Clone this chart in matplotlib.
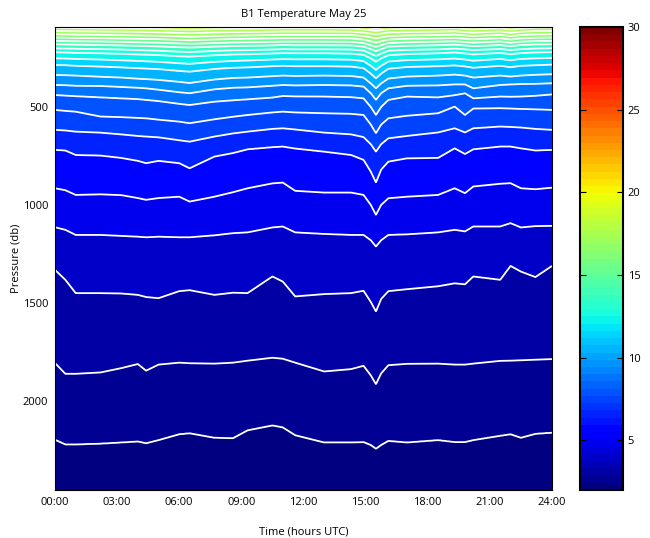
import numpy as np
import matplotlib.pyplot as plt
from matplotlib.colors import Normalize
from matplotlib.cm import ScalarMappable

plt.rcParams['font.family'] = ['Open Sans', 'DejaVu Sans']

# knot times (hours UTC) at which the isotherm depths were read
hours = [0, 0.5, 1.0, 2.2, 3.2, 4.0, 4.4, 5.0, 6.0, 6.5, 7.7, 8.6, 9.3, 10.5, 11.0,
         11.6, 13.0, 14.3, 14.9, 15.25, 15.5, 15.75, 16.1, 17.0, 18.5, 19.3, 19.8,
         20.2, 21.5, 22.0, 22.5, 23.2, 24.0]

# isotherm temperatures (deg C), deepest first
levels = [2.5, 3.3, 4.1, 4.9, 5.7, 6.5, 7.3, 8.1, 8.9, 9.7, 10.5, 11.3,
          12.1, 12.9, 13.7, 14.5, 15.3, 16.1, 16.9, 17.7, 18.5, 19.3, 20.1]

# pressure (db) of each isotherm at the knot times
p_2_5 = [2198, 2222, 2222, 2218, 2212, 2207, 2216, 2200, 2170, 2165, 2188, 2190, 2150, 2125, 2135,
         2175, 2212, 2212, 2210, 2225, 2244, 2225, 2204, 2212, 2200, 2210, 2210, 2200, 2178, 2170,
         2188, 2168, 2162]
p_3_3 = [1807, 1862, 1862, 1855, 1833, 1812, 1846, 1815, 1805, 1808, 1810, 1805, 1795, 1780, 1785,
         1805, 1850, 1838, 1821, 1870, 1915, 1860, 1818, 1811, 1810, 1815, 1815, 1810, 1796, 1795,
         1793, 1790, 1787]
p_4_1 = [1331, 1382, 1450, 1450, 1452, 1459, 1470, 1476, 1440, 1435, 1459, 1448, 1450, 1365, 1391,
         1467, 1455, 1450, 1438, 1495, 1544, 1480, 1440, 1430, 1415, 1400, 1405, 1365, 1382, 1311,
         1340, 1368, 1311]
p_4_9 = [1114, 1127, 1153, 1153, 1158, 1162, 1165, 1162, 1165, 1165, 1155, 1144, 1140, 1115, 1110,
         1140, 1148, 1153, 1153, 1180, 1212, 1180, 1153, 1150, 1140, 1127, 1135, 1110, 1110, 1093,
         1115, 1108, 1107]
p_5_7 = [915, 925, 949, 946, 950, 965, 974, 965, 958, 983, 958, 935, 915, 890, 886,
         928, 937, 937, 949, 1000, 1051, 1000, 966, 958, 949, 915, 940, 906, 892, 889,
         915, 920, 912]
p_6_5 = [719, 722, 745, 748, 760, 775, 787, 775, 787, 813, 753, 735, 716, 705, 702,
         712, 728, 745, 770, 830, 886, 820, 779, 762, 760, 711, 740, 716, 702, 702,
         711, 722, 719]
p_7_3 = [617, 620, 626, 631, 640, 648, 651, 655, 670, 677, 651, 635, 626, 612, 609,
         615, 631, 640, 654, 690, 728, 690, 660, 648, 630, 609, 630, 609, 600, 602,
         605, 612, 617]
p_8_1 = [515, 520, 524, 549, 552, 556, 558, 565, 575, 583, 563, 550, 541, 528, 524,
         528, 532, 535, 541, 590, 634, 590, 558, 545, 532, 498, 541, 508, 506, 508,
         510, 512, 515]
p_8_9 = [439, 442, 445, 451, 456, 460, 464, 470, 484, 490, 473, 466, 461, 452, 444,
         446, 447, 450, 456, 500, 541, 500, 464, 447, 451, 440, 430, 456, 447, 448,
         447, 443, 436]
p_9_7 = [388, 389, 392, 393, 398, 402, 405, 412, 425, 430, 410, 402, 400, 392, 388,
         390, 388, 390, 396, 430, 464, 430, 405, 392, 390, 385, 385, 405, 388, 385,
         383, 382, 379]
p_10_5 = [337, 338, 340, 346, 350, 356, 358, 362, 372, 378, 360, 352, 350, 343, 340,
          342, 340, 342, 350, 380, 405, 380, 355, 345, 340, 335, 340, 350, 340, 345,
          340, 336, 333]
p_11_3 = [286, 287, 290, 294, 298, 302, 304, 307, 316, 320, 306, 300, 298, 292, 290,
          292, 292, 294, 302, 330, 354, 330, 305, 296, 292, 288, 293, 300, 290, 297,
          290, 287, 284]
p_12_1 = [252, 253, 255, 258, 262, 265, 267, 270, 277, 280, 270, 265, 263, 258, 256,
          257, 257, 259, 266, 290, 311, 290, 268, 261, 257, 253, 258, 264, 255, 262,
          255, 252, 250]
p_12_9 = [221, 222, 224, 226, 229, 232, 233, 235, 241, 243, 236, 232, 231, 227, 225,
          226, 226, 228, 234, 252, 269, 252, 236, 230, 226, 222, 227, 232, 224, 231,
          225, 222, 220]
p_13_7 = [201, 202, 203, 205, 207, 210, 211, 213, 218, 220, 214, 211, 210, 207, 205,
          206, 206, 207, 212, 228, 240, 228, 213, 209, 206, 202, 206, 210, 204, 210,
          205, 202, 200]
p_14_5 = [180, 181, 182, 184, 186, 188, 189, 191, 195, 197, 192, 189, 188, 186, 184,
          185, 185, 186, 192, 205, 215, 205, 192, 188, 185, 182, 186, 190, 184, 190,
          184, 181, 180]
p_15_3 = [163, 164, 165, 166, 168, 170, 171, 172, 176, 178, 174, 171, 170, 168, 167,
          167, 167, 168, 174, 185, 193, 185, 174, 170, 167, 165, 169, 172, 166, 173,
          167, 164, 163]
p_16_1 = [146, 147, 148, 149, 151, 152, 153, 154, 158, 160, 156, 153, 152, 150, 149,
          149, 149, 150, 156, 165, 172, 165, 156, 152, 150, 148, 152, 155, 149, 156,
          150, 147, 146]
p_16_9 = [129, 130, 131, 132, 134, 135, 136, 137, 140, 142, 138, 136, 135, 133, 132,
          132, 132, 133, 138, 145, 150, 145, 138, 135, 133, 131, 135, 138, 132, 139,
          133, 130, 129]
p_17_7 = [112, 113, 114, 115, 116, 117, 118, 119, 122, 124, 120, 118, 118, 116, 115,
          115, 115, 116, 121, 126, 130, 126, 120, 118, 116, 114, 118, 121, 115, 122,
          116, 113, 112]
p_18_5 = [96, 97, 98, 99, 100, 101, 101, 102, 105, 106, 103, 101, 101, 99, 98,
          98, 98, 99, 104, 108, 112, 108, 103, 101, 99, 97, 101, 104, 98, 105,
          99, 96, 95]
p_19_3 = [82, 82, 83, 83, 84, 84, 85, 85, 88, 89, 86, 85, 85, 83, 83,
          83, 83, 84, 90, 96, 100, 96, 89, 86, 84, 82, 86, 89, 83, 91,
          84, 82, 81]
p_20_1 = [70, 70, 70, 71, 71, 72, 72, 72, 74, 75, 73, 72, 72, 71, 70,
          70, 70, 71, 78, 88, 94, 88, 76, 73, 71, 70, 73, 75, 70, 77,
          71, 70, 69]

isotherms = [p_2_5, p_3_3, p_4_1, p_4_9, p_5_7, p_6_5, p_7_3, p_8_1, p_8_9, p_9_7, p_10_5,
             p_11_3, p_12_1, p_12_9, p_13_7, p_14_5, p_15_3, p_16_1, p_16_9, p_17_7,
             p_18_5, p_19_3, p_20_1]

xticks = [0, 3, 6, 9, 12, 15, 18, 21, 24]
xticklabels = ['00:00', '03:00', '06:00', '09:00', '12:00', '15:00', '18:00', '21:00', '24:00']

# build the temperature field from the isotherm depths
tt = np.linspace(0, 24, 1200)
pp = np.linspace(80, 2470, 900)
lines = np.array([np.interp(tt, hours, p) for p in isotherms])  # deepest first
temps = np.array(levels)
T = np.empty((len(pp), len(tt)))
for j in range(len(tt)):
    xp = np.concatenate([[0.0], lines[::-1, j], [2600.0]])
    fp = np.concatenate([[21.0], temps[::-1], [2.2]])
    T[:, j] = np.interp(pp, xp, fp)

cmap = plt.get_cmap('jet', 64)
norm = Normalize(2, 30)
bounds = [0] + levels + [40]
band_colors = [cmap(norm(2.0))] + [cmap(norm(v)) for v in levels]

fig = plt.figure(figsize=(6.5, 5.38), dpi=100)
ax = fig.add_axes([0.0846, 0.0892, 0.7646, 0.8606])
cax = fig.add_axes([0.8923, 0.0892, 0.066, 0.8606])

ax.contourf(tt, pp, T, levels=bounds, colors=band_colors, antialiased=False)
ax.contour(tt, pp, T, levels=levels, colors='white', linewidths=1.3)

ax.set_xlim(0, 24)
ax.set_ylim(2455, 92)
ax.set_xticks(xticks)
ax.set_xticklabels(xticklabels)
ax.set_yticks([500, 1000, 1500, 2000])
ax.tick_params(direction='in', labelsize=8, length=0, pad=5)
ax.set_title('B1 Temperature May 25', fontsize=8, pad=7)
ax.set_xlabel('Time (hours UTC)', fontsize=8, labelpad=13)
ax.set_ylabel('Pressure (db)', fontsize=8, labelpad=1)
for s in ax.spines.values():
    s.set_linewidth(0.8)

sm = ScalarMappable(norm=norm, cmap=cmap)
cb = fig.colorbar(sm, cax=cax, ticks=[5, 10, 15, 20, 25, 30])
cax.tick_params(direction='in', labelsize=8, length=4, left=True, right=True)
cb.outline.set_linewidth(1.5)

fig.savefig('out.png', dpi=100)
